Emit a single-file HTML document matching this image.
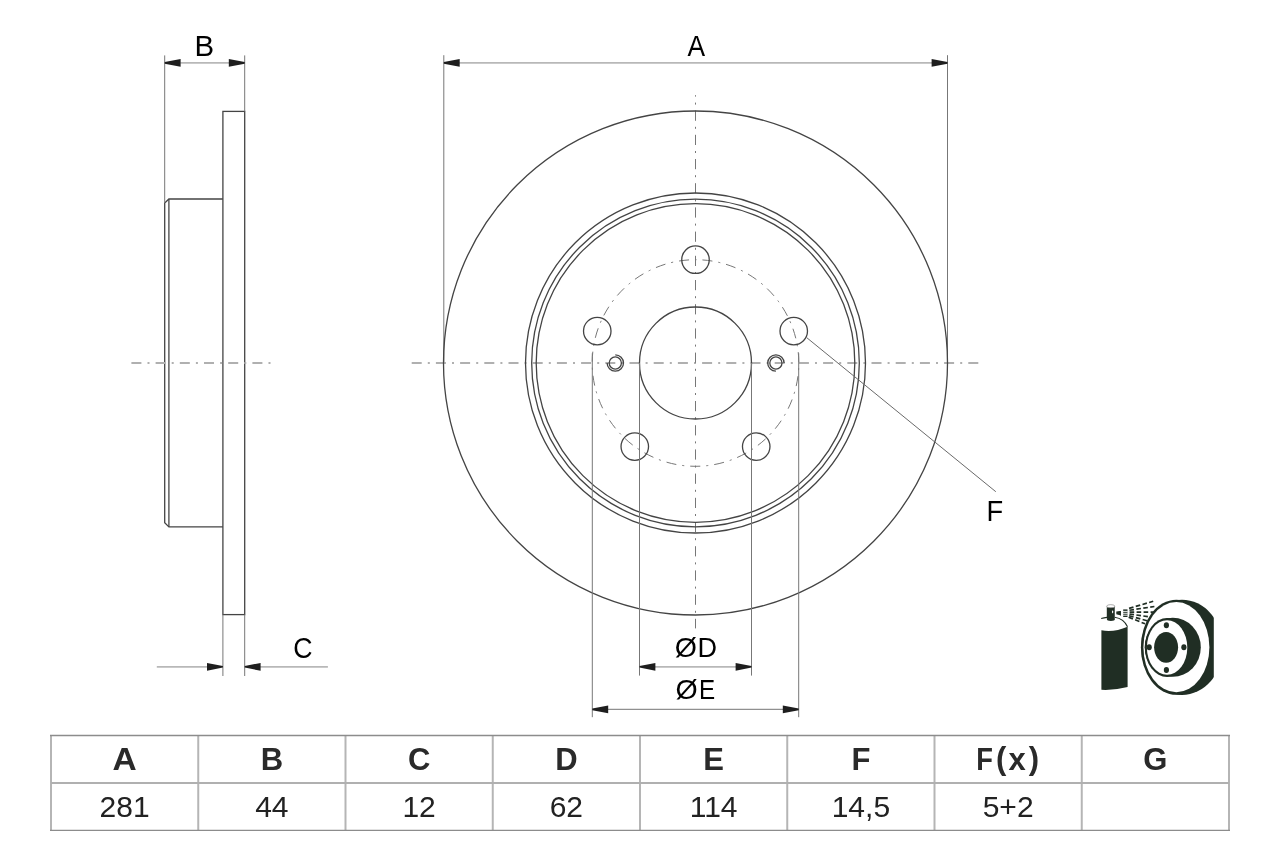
<!DOCTYPE html>
<html><head><meta charset="utf-8"><style>
html,body{margin:0;padding:0;background:#fff;}
svg{display:block;will-change:transform;}
text{font-family:"Liberation Sans",sans-serif;}
</style></head><body>
<svg width="1280" height="853" viewBox="0 0 1280 853">
<rect width="1280" height="853" fill="#fff"/>
<g fill="none" stroke="#444" stroke-width="1.3">
<rect x="222.9" y="111.4" width="21.8" height="503.2"/>
<path d="M222.9 199 H168.9 L164.7 203 V522.8 L168.9 526.9 H222.9"/>
<path d="M168.9 199 V526.9"/>
</g>
<line x1="131.4" y1="363" x2="271" y2="363" stroke="#b0b0b0" stroke-width="2" stroke-dasharray="10 6.1 2 6.1"/>
<g stroke="#777" stroke-width="1">
<line x1="164.7" y1="55.4" x2="164.7" y2="203"/>
<line x1="244.7" y1="55.4" x2="244.7" y2="111.4"/>
<line x1="222.9" y1="614.6" x2="222.9" y2="676"/>
<line x1="244.7" y1="614.6" x2="244.7" y2="676"/>
</g>
<g stroke="#b8b8b8" stroke-width="1.8">
<line x1="175" y1="62.9" x2="235" y2="62.9"/>
<line x1="156.8" y1="666.8" x2="212" y2="666.8"/>
<line x1="255" y1="666.8" x2="327.9" y2="666.8"/>
</g>
<g fill="#1e1e1e">
<path d="M164.70 62.10 L180.60 59.00 V66.80 L164.70 63.70 Z"/>
<path d="M244.70 62.10 L228.80 59.00 V66.80 L244.70 63.70 Z"/>
<path d="M222.90 666.00 L207.00 662.90 V670.70 L222.90 667.60 Z"/>
<path d="M244.70 666.00 L260.60 662.90 V670.70 L244.70 667.60 Z"/>
</g>
<text transform="translate(204.40,55.50) scale(0.98,1)" font-size="30" text-anchor="middle" fill="#000">B</text>
<text transform="translate(303.00,658.30) scale(0.89,1)" font-size="30" text-anchor="middle" fill="#000">C</text>
<g stroke="#777" stroke-width="1">
<line x1="443.8" y1="55.2" x2="443.8" y2="363"/>
<line x1="947.5" y1="55.2" x2="947.5" y2="363"/>
</g>
<line x1="455" y1="62.9" x2="936" y2="62.9" stroke="#b8b8b8" stroke-width="1.8"/>
<g fill="#1e1e1e"><path d="M443.80 62.10 L459.70 59.00 V66.80 L443.80 63.70 Z"/><path d="M947.50 62.10 L931.60 59.00 V66.80 L947.50 63.70 Z"/></g>
<text transform="translate(696.20,55.50) scale(0.88,1)" font-size="30" text-anchor="middle" fill="#000">A</text>
<line x1="411.7" y1="363" x2="978.3" y2="363" stroke="#b0b0b0" stroke-width="2" stroke-dasharray="10 6.1 2 6.1"/>
<line x1="695.5" y1="95.2" x2="695.5" y2="628.4" stroke="#777" stroke-width="1" stroke-dasharray="10.2 6 2 6" stroke-dashoffset="8.8"/>
<path d="M695.5 259.7 A103.3 103.3 0 1 1 695.49 259.7" fill="none" stroke="#777" stroke-width="1" stroke-dasharray="2 6 10.039 6" stroke-dashoffset="1"/>
<g fill="none" stroke="#444" stroke-width="1.3">
<circle cx="695.5" cy="363.0" r="252"/>
<circle cx="695.5" cy="363.0" r="170"/>
<circle cx="695.5" cy="363.0" r="163.8"/>
<circle cx="695.5" cy="363.0" r="159.3"/>
<circle cx="695.5" cy="363.0" r="56"/>
<circle cx="695.50" cy="259.70" r="13.75"/>
<circle cx="793.74" cy="331.08" r="13.75"/>
<circle cx="756.22" cy="446.57" r="13.75"/>
<circle cx="634.78" cy="446.57" r="13.75"/>
<circle cx="597.26" cy="331.08" r="13.75"/>
<circle cx="615.3" cy="363" r="6.1"/>
<path d="M615.3 354.8 A8.2 8.2 0 1 1 607.1 363"/>
<circle cx="775.9" cy="363" r="6.1"/>
<path d="M775.9 371.2 A8.2 8.2 0 1 1 784.1 363"/>
</g>
<g stroke="#777" stroke-width="1">
<line x1="639.5" y1="363" x2="639.5" y2="675.6"/>
<line x1="751.5" y1="363" x2="751.5" y2="675.6"/>
<line x1="592.3" y1="353.3" x2="592.3" y2="717.2"/>
<line x1="798.7" y1="353.3" x2="798.7" y2="717.2"/>
</g>
<g stroke="#b8b8b8" stroke-width="1.8">
<line x1="650" y1="666.8" x2="741" y2="666.8"/>
<line x1="603" y1="709.4" x2="788" y2="709.4" stroke="#909090" stroke-width="1.3"/>
</g>
<g fill="#1e1e1e"><path d="M639.50 666.00 L655.40 662.90 V670.70 L639.50 667.60 Z"/><path d="M751.50 666.00 L735.60 662.90 V670.70 L751.50 667.60 Z"/><path d="M592.30 708.60 L608.20 705.50 V713.30 L592.30 710.20 Z"/><path d="M798.70 708.60 L782.80 705.50 V713.30 L798.70 710.20 Z"/></g>
<text transform="translate(674.80,656.50) scale(1.0,1)" font-size="28.5" text-anchor="start" fill="#000">Ø</text>
<text transform="translate(697.40,656.50) scale(0.95,1)" font-size="28.5" text-anchor="start" fill="#000">D</text>
<text transform="translate(675.55,699.10) scale(1.0,1)" font-size="28.5" text-anchor="start" fill="#000">Ø</text>
<text transform="translate(698.90,699.10) scale(0.85,1)" font-size="28.5" text-anchor="start" fill="#000">E</text>
<line x1="806.9" y1="337.8" x2="995.8" y2="491.7" stroke="#6a6a6a" stroke-width="1"/>
<text transform="translate(994.90,520.80) scale(0.91,1)" font-size="30" text-anchor="middle" fill="#000">F</text>
<defs><clipPath id="dclip"><rect x="1130" y="590" width="83.8" height="110"/></clipPath></defs>
<g fill="#202e24">
<path d="M1101.4 630.3 Q1114 632.6 1127.6 626.7 V687 Q1114 690.5 1101.4 689.8 Z"/>
<rect x="1106.8" y="606.3" width="7.95" height="12.5"/>
<ellipse cx="1110.9" cy="619.3" rx="4" ry="1.7"/>
<path d="M1116.6 612.3 L1120.8 611 V615.8 Z"/>
<path d="M1116.3 611.6 L1120.9 611.1 V615.6 L1116.3 614.2 Z"/>
<rect x="1123.2" y="609.4" width="4.3" height="7.6"/>
</g>
<ellipse cx="1110.75" cy="606.2" rx="4.1" ry="1.55" fill="#fff" stroke="#777" stroke-width="0.6"/>
<path d="M1112.3 610.2 Q1114.3 611.8 1112.3 613.6 Q1111.6 611.8 1112.3 610.2 Z" fill="#fff"/>
<g fill="#fff"><rect x="1123" y="610.9" width="4.8" height="0.9"/><rect x="1123" y="612.8" width="4.8" height="0.9"/><rect x="1123" y="614.7" width="4.8" height="0.9"/></g>
<path d="M1101.2 618.6 Q1104 617.6 1107 617.4 M1114.7 617.2 Q1124 618.6 1127.5 626.8" fill="none" stroke="#202e24" stroke-width="1.1"/>
<g stroke="#202e24" stroke-width="1.7" stroke-dasharray="4.6 2.4" fill="none">
<line x1="1129.05" y1="608.42" x2="1153.21" y2="601.27"/><line x1="1129.45" y1="610.23" x2="1154.38" y2="606.51"/><line x1="1129.60" y1="612.20" x2="1154.80" y2="612.20"/><line x1="1129.47" y1="614.05" x2="1148.48" y2="616.72"/><line x1="1129.12" y1="615.75" x2="1147.14" y2="620.75"/><line x1="1128.63" y1="617.18" x2="1145.04" y2="623.81"/>
</g>
<ellipse cx="1182" cy="647.35" rx="40.9" ry="47.65" fill="#202e24" clip-path="url(#dclip)"/>
<ellipse cx="1176.4" cy="647.25" rx="35.5" ry="47.6" fill="#202e24"/>
<ellipse cx="1176.4" cy="647.2" rx="33.0" ry="45.1" fill="#fff"/>
<ellipse cx="1172.8" cy="647.35" rx="28" ry="29.5" fill="#202e24"/>
<ellipse cx="1167.1" cy="647.5" rx="22.3" ry="29.4" fill="#202e24"/>
<ellipse cx="1167.1" cy="647.5" rx="20.2" ry="27.3" fill="#fff"/>
<g fill="#202e24">
<ellipse cx="1166.1" cy="647.3" rx="12" ry="15.4"/>
<ellipse cx="1166.4" cy="625.2" rx="2.6" ry="3"/>
<ellipse cx="1149.2" cy="647.3" rx="2.6" ry="3"/>
<ellipse cx="1183.9" cy="647.3" rx="2.6" ry="3"/>
<ellipse cx="1166.4" cy="669.9" rx="2.6" ry="3"/>
</g>
<g stroke="#b5b5b5" stroke-width="2" fill="none">
<line x1="51.00" y1="735.5" x2="51.00" y2="830.4"/>
<line x1="198.25" y1="735.5" x2="198.25" y2="830.4"/>
<line x1="345.50" y1="735.5" x2="345.50" y2="830.4"/>
<line x1="492.75" y1="735.5" x2="492.75" y2="830.4"/>
<line x1="640.00" y1="735.5" x2="640.00" y2="830.4"/>
<line x1="787.25" y1="735.5" x2="787.25" y2="830.4"/>
<line x1="934.50" y1="735.5" x2="934.50" y2="830.4"/>
<line x1="1081.75" y1="735.5" x2="1081.75" y2="830.4"/>
<line x1="1229.00" y1="735.5" x2="1229.00" y2="830.4"/>
<line x1="51.0" y1="782.9" x2="1229.0" y2="782.9" stroke="#b0b0b0"/>
</g>
<g stroke="#8c8c8c" stroke-width="1.3" fill="none">
<line x1="50.0" y1="735.5" x2="1230.0" y2="735.5"/>
<line x1="50.0" y1="830.4" x2="1230.0" y2="830.4"/>
</g>
<g font-size="31" font-weight="bold" text-anchor="middle" fill="#2a2a2a">
<text transform="translate(124.62,770.4) scale(1.08,1)">A</text>
<text x="271.88" y="770.4">B</text>
<text x="419.12" y="770.4">C</text>
<text x="566.38" y="770.4">D</text>
<text x="713.62" y="770.4">E</text>
<text x="860.88" y="770.4">F</text>
<text transform="translate(976.3,770.4) scale(0.88,1)" text-anchor="start">F</text>
<text y="770.4" text-anchor="start"><tspan x="995.9" dy="-1.8">(</tspan><tspan x="1008.5" dy="1.8">x</tspan><tspan x="1028.7" dy="-1.8">)</tspan></text>
<text x="1155.38" y="770.4">G</text>
</g>
<g font-size="30" text-anchor="middle" fill="#222">
<text x="124.62" y="817">281</text>
<text x="271.88" y="817">44</text>
<text x="419.12" y="817">12</text>
<text x="566.38" y="817">62</text>
<text x="713.62" y="817">114</text>
<text x="860.88" y="817">14,5</text>
<text x="1008.12" y="817">5+2</text>
</g>
</svg>
</body></html>
